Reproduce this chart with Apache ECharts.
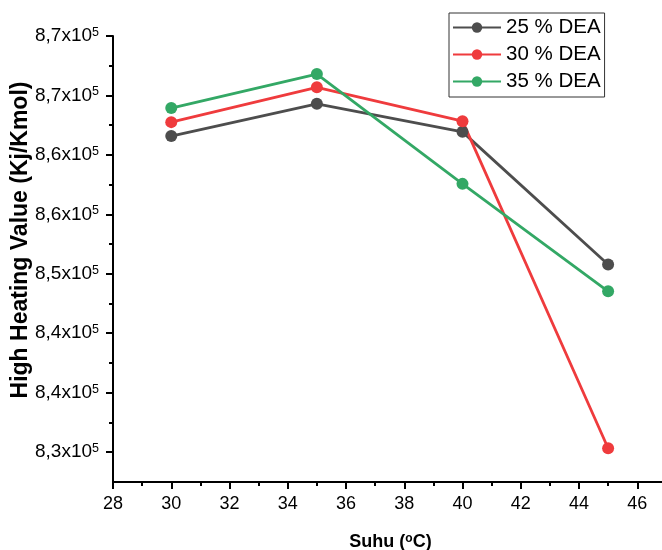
<!DOCTYPE html>
<html>
<head>
<meta charset="utf-8">
<script src="https://cdn.jsdelivr.net/npm/echarts@6/dist/echarts.min.js"></script>
<style>
html,body{margin:0;padding:0;background:#fff;}
#chart{width:662px;height:550px;}
</style>
</head>
<body>
<div id="chart"></div>
<script>
// ---- data ----
const seriesNames = ['25 % DEA', '30 % DEA', '35 % DEA'];
const suhu = [30, 35, 40, 45];
const dea25 = [863900, 867160, 864330, 850940];
const dea30 = [865310, 868820, 865410, 832410];
const dea35 = [866730, 870160, 859080, 848240];
const yTickValues = [832000, 838000, 844000, 850000, 856000, 862000, 868000, 874000];
const yTickLabels = ['8,3', '8,4', '8,4', '8,5', '8,6', '8,6', '8,7', '8,7'];
const yTickExponent = '5';
const xTickLabels = ['28', '30', '32', '34', '36', '38', '40', '42', '44', '46'];
const xAxisTitle = ['Suhu (', 'o', 'C)'];
const yAxisTitle = 'High Heating Value (Kj/Kmol)';
const colors = ['#4d4d4d', '#ef3b3d', '#33a865'];

const FONT = 'Liberation Sans, Arial, sans-serif';
const chart = echarts.init(document.getElementById('chart'));

function pairs(vals) { return suhu.map((x, i) => [x, vals[i]]); }

const yMinTick = yTickValues[0];
const yStep = yTickValues[1] - yTickValues[0];
const yMaxTick = yTickValues[yTickValues.length - 1];
const xMinTick = Number(xTickLabels[0]);
const xMaxTick = Number(xTickLabels[xTickLabels.length - 1]);

const lineSeries = [dea25, dea30, dea35].map((vals, i) => ({
  name: seriesNames[i],
  type: 'line',
  xAxisIndex: 0,
  yAxisIndex: 0,
  data: pairs(vals),
  symbol: 'circle',
  symbolSize: 12,
  clip: false,
  lineStyle: { color: colors[i], width: 2.8 },
  itemStyle: { color: colors[i] },
  emphasis: { disabled: true },
  animation: false
}));

chart.setOption({
  animation: false,
  backgroundColor: '#ffffff',
  textStyle: { fontFamily: FONT },
  grid: [
    { left: 113, right: 0, top: 36, bottom: 68, containLabel: false, outerBoundsMode: 'none' },
    { left: 113, right: 24.7, top: 36, bottom: 98, containLabel: false, outerBoundsMode: 'none' }
  ],
  legend: {
    orient: 'vertical',
    left: 449,
    top: 13,
    padding: [4, 4, 5, 3],
    itemWidth: 48,
    itemHeight: 13,
    itemGap: 6,
    borderColor: '#333',
    borderWidth: 1,
    borderRadius: 0,
    backgroundColor: '#fff',
    textStyle: { fontSize: 20.5, color: '#000', fontFamily: FONT, lineHeight: 20 },
    data: seriesNames
  },
  xAxis: [
    {
      gridIndex: 0, type: 'value', min: xMinTick, max: 46.85,
      axisLine: { show: true, onZero: false, lineStyle: { color: '#000', width: 2 } },
      axisTick: { show: false }, axisLabel: { show: false }, splitLine: { show: false },
      name: '{n|' + xAxisTitle[0] + '}{s|' + xAxisTitle[1] + '}{n|' + xAxisTitle[2] + '}',
      nameLocation: 'middle',
      nameGap: 51,
      nameMoveOverlap: false,
      nameTextStyle: {
        padding: [0, 0, 0, 6],
        rich: {
          n: { fontSize: 18, fontWeight: 'bold', color: '#000', fontFamily: FONT, lineHeight: 19 },
          s: { fontSize: 12, fontWeight: 'bold', color: '#000', fontFamily: FONT, verticalAlign: 'top', lineHeight: 12 }
        }
      }
    },
    {
      gridIndex: 1, type: 'value', min: xMinTick, max: xMaxTick, interval: 2,
      offset: 30,
      axisLine: { show: false },
      axisTick: { show: true, length: 7, lineStyle: { color: '#000', width: 2 } },
      minorTick: { show: true, splitNumber: 2, length: 4, lineStyle: { color: '#000', width: 2 } },
      axisLabel: {
        margin: 13, fontSize: 18, color: '#000', fontFamily: FONT,
        formatter: function (v) { const i = Math.round((v - xMinTick) / 2); return xTickLabels[i] || ''; }
      },
      splitLine: { show: false }, minorSplitLine: { show: false }
    }
  ],
  yAxis: [
    {
      gridIndex: 0, type: 'value', min: 829000, max: yMaxTick,
      axisLine: { show: true, onZero: false, lineStyle: { color: '#000', width: 2 } },
      axisTick: { show: false }, axisLabel: { show: false }, splitLine: { show: false }
    },
    {
      gridIndex: 1, type: 'value', min: yMinTick, max: yMaxTick, interval: yStep,
      axisLine: { show: false },
      axisTick: { show: true, length: 7, lineStyle: { color: '#000', width: 2 } },
      minorTick: { show: true, splitNumber: 2, length: 4, lineStyle: { color: '#000', width: 2 } },
      axisLabel: {
        margin: 14,
        formatter: function (v) {
          const i = Math.round((v - yMinTick) / yStep);
          const t = yTickLabels[i];
          return t ? '{m|' + t + 'x10}{s|' + yTickExponent + '}' : '';
        },
        rich: {
          m: { fontSize: 19, color: '#000', fontFamily: FONT, lineHeight: 20 },
          s: { fontSize: 12.5, color: '#000', fontFamily: FONT, verticalAlign: 'top', lineHeight: 12 }
        }
      },
      splitLine: { show: false }, minorSplitLine: { show: false },
      name: yAxisTitle,
      nameLocation: 'middle',
      nameRotate: 90,
      nameGap: 81,
      nameMoveOverlap: false,
      nameTextStyle: { fontSize: 23, fontWeight: 'bold', color: '#000', fontFamily: FONT, padding: [0, 0, 0, 8] }
    }
  ],
  series: lineSeries
});
</script>
</body>
</html>
